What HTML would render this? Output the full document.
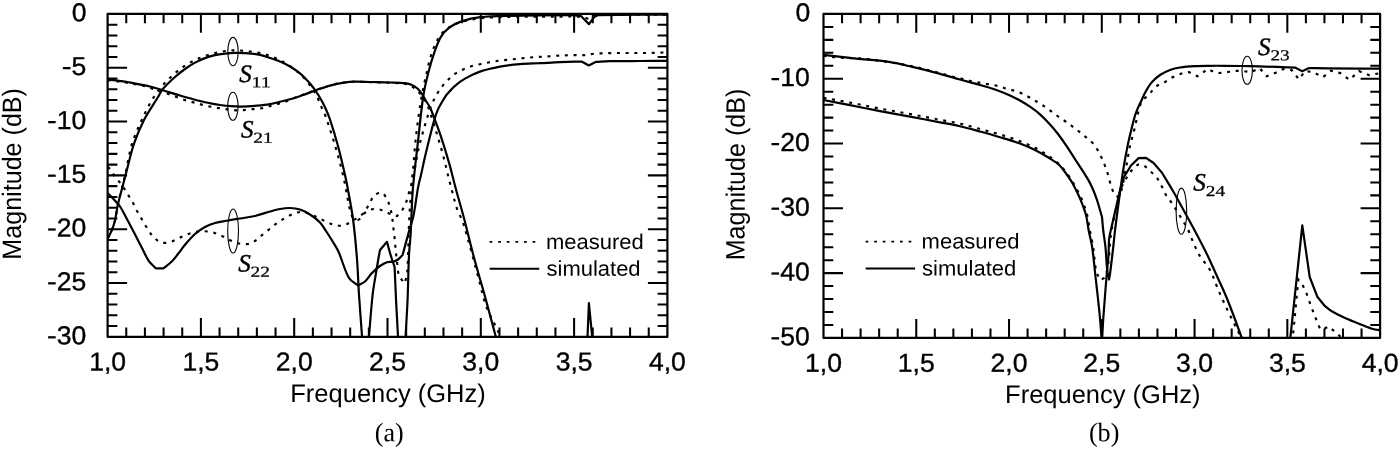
<!DOCTYPE html>
<html lang="en"><head><meta charset="utf-8"><title>S-parameters: measured and simulated</title>
<style>
html,body{margin:0;padding:0;background:#fff;}
body{width:1400px;height:449px;overflow:hidden;}
svg{display:block;will-change:transform;}
text{fill:#000;}
.sans{font-family:"Liberation Sans",Arial,Helvetica,sans-serif;}
.serif{font-family:"Liberation Serif","Times New Roman",Times,serif;}
</style></head><body>
<svg width="1400" height="449" viewBox="0 0 1400 449">
<rect x="0" y="0" width="1400" height="449" fill="#fff"/>
<defs>
<clipPath id="clipL"><rect x="107.60" y="13.95" width="559.80" height="322.85"/></clipPath>
<clipPath id="clipR"><rect x="823.50" y="13.95" width="556.60" height="323.95"/></clipPath>
</defs>

<g clip-path="url(#clipL)">
<path d="M107.60 238.50 C107.80 238.17 108.02 237.84 108.20 237.50 C108.99 236.01 109.77 234.52 110.50 233.00 C111.14 231.68 111.77 230.36 112.30 229.00 C112.94 227.36 113.51 225.69 114.00 224.00 C114.58 222.02 115.10 220.02 115.50 218.00 C116.43 213.35 116.99 208.63 118.00 204.00 C119.23 198.36 120.83 192.81 122.20 187.20 C123.60 181.47 125.04 175.76 126.30 170.00 C127.17 166.02 127.74 161.98 128.60 158.00 C129.64 153.21 130.41 148.32 132.00 143.70 C134.77 135.65 138.08 127.72 141.70 120.00 C145.38 112.15 149.25 104.28 153.90 97.00 C157.45 91.45 161.72 86.24 166.30 81.50 C171.39 76.24 176.94 71.21 182.90 67.00 C187.97 63.41 193.68 60.54 199.40 58.10 C204.71 55.84 210.37 54.21 216.00 52.90 C221.43 51.64 227.04 50.65 232.60 50.40 C238.07 50.15 243.64 50.72 249.10 51.40 C254.68 52.09 260.34 52.89 265.70 54.50 C271.41 56.22 277.03 58.61 282.30 61.40 C287.13 63.95 291.68 67.15 296.00 70.50 C299.25 73.02 302.23 75.96 305.00 79.00 C307.40 81.63 309.49 84.56 311.50 87.50 C313.49 90.40 315.40 93.38 317.00 96.50 C318.40 99.22 319.26 102.20 320.50 105.00 C321.76 107.86 323.34 110.60 324.50 113.50 C326.01 117.26 327.23 121.15 328.50 125.00 C330.89 132.25 333.37 139.47 335.50 146.80 C338.21 156.14 340.65 165.56 343.00 175.00 C343.99 178.96 344.70 182.99 345.50 187.00 C347.03 194.66 348.17 202.43 350.00 210.00 C350.67 212.76 351.59 215.66 353.00 218.00 C353.59 218.99 354.92 219.73 356.00 220.00 C356.92 220.23 358.25 220.10 359.00 219.50 C360.75 218.10 361.71 215.49 363.50 214.00 C365.71 212.16 368.29 210.26 371.00 209.50 C373.66 208.76 376.85 208.93 379.60 209.50 C382.51 210.10 385.16 211.94 388.00 213.00 C390.96 214.11 394.00 215.00 397.00 216.00 C398.87 213.83 401.07 211.89 402.60 209.50 C404.27 206.89 405.50 203.92 406.60 201.00 C407.63 198.25 408.17 195.32 409.00 192.50 C409.64 190.32 410.60 188.22 411.00 186.00 C411.94 180.72 412.46 175.35 413.00 170.00 C414.13 158.81 414.71 147.57 416.00 136.40 C417.44 123.90 419.19 111.42 421.20 99.00 C422.32 92.09 423.84 85.23 425.40 78.40 C427.31 70.06 428.85 61.56 431.60 53.50 C433.68 47.39 436.36 41.20 439.90 35.90 C442.16 32.53 445.60 29.74 449.00 27.50 C452.63 25.11 456.81 23.24 461.00 22.00 C467.14 20.18 473.60 18.98 480.00 18.30 C489.60 17.28 499.33 17.11 509.00 16.90 C525.99 16.54 543.00 16.67 560.00 16.60 C566.00 16.57 572.01 16.45 578.00 16.60 C580.01 16.65 582.04 16.83 584.00 17.20 C585.54 17.49 587.10 18.78 588.50 18.60 C589.76 18.44 590.74 16.80 592.00 16.20 C593.24 15.60 594.61 15.03 596.00 15.00 C619.74 14.50 643.60 14.73 667.40 14.60" fill="none" stroke="#000" stroke-width="2.15" stroke-dasharray="3 5.7"/>
<path d="M107.60 80.20 C111.07 80.60 114.54 80.94 118.00 81.40 C121.01 81.80 124.00 82.32 127.00 82.80 C130.00 83.28 133.02 83.72 136.00 84.30 C138.85 84.85 141.71 85.43 144.50 86.20 C147.37 86.99 150.16 88.07 153.00 89.00 C155.66 89.87 158.34 90.72 161.00 91.60 C164.00 92.59 167.02 93.54 170.00 94.60 C173.02 95.67 175.98 96.93 179.00 98.00 C181.81 99.00 184.64 99.96 187.50 100.80 C190.31 101.63 193.17 102.24 196.00 103.00 C199.01 103.81 201.98 104.76 205.00 105.50 C207.98 106.23 210.98 106.86 214.00 107.40 C216.98 107.93 220.00 108.29 223.00 108.70 C225.83 109.09 228.66 109.52 231.50 109.80 C234.36 110.08 237.24 110.47 240.10 110.40 C243.01 110.33 245.89 109.66 248.80 109.40 C251.79 109.13 254.82 109.17 257.80 108.80 C260.72 108.44 263.64 107.91 266.50 107.20 C269.41 106.48 272.21 105.31 275.10 104.50 C277.94 103.71 280.91 103.33 283.70 102.40 C286.68 101.40 289.47 99.85 292.40 98.70 C295.90 97.32 299.47 96.10 303.00 94.80 C307.33 93.20 311.64 91.52 316.00 90.00 C320.64 88.39 325.26 86.67 330.00 85.40 C334.60 84.17 339.30 83.21 344.00 82.50 C347.63 81.95 351.33 81.64 355.00 81.60 C359.99 81.54 365.00 82.03 370.00 82.20 C376.67 82.43 383.34 82.53 390.00 82.80 C394.67 82.99 399.38 83.05 404.00 83.60 C406.05 83.85 408.13 84.38 410.00 85.20 C411.47 85.85 412.73 86.98 414.00 88.00 C415.56 89.25 417.06 90.60 418.50 92.00 C419.73 93.20 421.05 94.38 422.00 95.80 C424.05 98.84 426.14 101.99 427.50 105.40 C430.71 113.45 433.10 121.89 435.70 130.20 C438.27 138.42 440.76 146.68 443.00 155.00 C445.59 164.61 447.67 174.37 450.20 184.00 C452.67 193.37 454.96 202.84 458.00 212.00 C458.89 214.68 461.10 216.82 462.00 219.50 C465.60 230.16 468.45 241.13 471.50 252.00 C474.11 261.30 476.53 270.66 479.00 280.00 C480.96 287.43 482.50 294.99 484.80 302.30 C486.17 306.65 488.11 310.84 490.00 315.00 C492.01 319.41 494.40 323.63 496.50 328.00 C498.40 331.97 500.17 336.00 502.00 340.00" fill="none" stroke="#000" stroke-width="2.15" stroke-dasharray="3 5.7"/>
<path d="M107.60 167.00 C108.07 167.33 108.65 167.55 109.00 168.00 C111.45 171.21 113.53 174.77 116.00 178.00 C117.86 180.44 120.21 182.51 122.00 185.00 C124.05 187.85 125.65 191.01 127.50 194.00 C129.15 196.68 130.97 199.26 132.50 202.00 C134.13 204.92 135.40 208.05 137.00 211.00 C138.57 213.89 140.33 216.67 142.00 219.50 C143.67 222.33 145.22 225.24 147.00 228.00 C148.88 230.91 150.62 234.04 153.00 236.50 C155.29 238.87 158.02 241.54 161.00 242.50 C163.69 243.37 167.12 242.68 170.00 242.00 C172.79 241.34 175.34 239.67 178.00 238.50 C181.00 237.17 183.93 235.64 187.00 234.50 C189.93 233.41 192.94 232.39 196.00 231.80 C198.61 231.29 201.34 231.09 204.00 231.20 C207.01 231.32 210.10 231.69 213.00 232.50 C216.43 233.46 219.73 235.04 223.00 236.50 C226.06 237.87 228.90 239.74 232.00 241.00 C234.87 242.17 237.86 243.45 240.90 243.80 C244.26 244.19 248.18 244.52 251.20 243.20 C255.74 241.22 259.51 237.06 263.60 233.90 C268.44 230.16 272.95 225.93 278.00 222.50 C282.62 219.36 287.50 216.34 292.60 214.20 C295.83 212.84 299.62 211.58 303.00 212.00 C307.92 212.61 312.77 215.29 317.50 217.30 C321.77 219.12 325.63 222.04 330.00 223.50 C333.93 224.81 338.47 226.25 342.40 225.60 C346.73 224.88 350.85 221.76 354.80 219.40 C357.88 217.56 361.06 215.56 363.50 213.00 C365.79 210.60 367.23 207.37 369.00 204.50 C370.73 201.70 371.73 198.16 374.00 196.00 C375.93 194.16 379.43 192.07 381.60 192.50 C383.63 192.90 385.31 196.27 386.60 198.50 C388.11 201.11 389.10 204.09 390.00 207.00 C390.90 209.93 391.48 212.97 392.00 216.00 C392.48 218.81 392.67 221.67 393.00 224.50 C393.33 227.33 393.67 230.17 394.00 233.00 C394.33 235.83 394.73 238.66 395.00 241.50 C395.27 244.33 395.33 247.17 395.60 250.00 C395.86 252.67 396.29 255.33 396.60 258.00 C396.95 261.00 397.19 264.01 397.60 267.00 C397.99 269.84 397.91 272.92 399.00 275.50 C400.24 278.42 402.73 280.83 404.60 283.50 C405.40 280.50 406.48 277.55 407.00 274.50 C407.48 271.71 407.44 268.84 407.60 266.00 C407.77 263.00 407.90 260.00 408.00 257.00 C408.36 246.33 408.53 235.66 409.00 225.00 C409.37 216.66 409.76 208.31 410.50 200.00 C411.09 193.31 411.97 186.64 413.00 180.00 C414.50 170.30 416.14 160.61 418.10 151.00 C419.24 145.41 420.77 139.90 422.30 134.40 C424.24 127.43 426.22 120.46 428.50 113.60 C430.02 109.03 431.65 104.45 433.70 100.10 C435.35 96.58 437.42 93.22 439.60 90.00 C441.52 87.16 443.64 84.39 446.00 81.90 C448.64 79.12 451.49 76.43 454.60 74.20 C457.26 72.29 460.32 70.90 463.30 69.50 C466.15 68.16 469.10 66.94 472.10 66.00 C474.93 65.11 477.89 64.63 480.80 64.00 C483.73 63.36 486.65 62.74 489.60 62.20 C492.52 61.67 495.46 61.20 498.40 60.80 C501.32 60.40 504.26 60.10 507.20 59.80 C510.10 59.50 513.00 59.30 515.90 59.00 C518.84 58.70 521.76 58.31 524.70 58.00 C527.53 57.71 530.36 57.41 533.20 57.20 C536.13 56.98 539.07 56.87 542.00 56.70 C544.93 56.53 547.87 56.39 550.80 56.20 C553.63 56.02 556.46 55.74 559.30 55.60 C563.33 55.40 567.37 55.32 571.40 55.20 C574.27 55.12 577.13 55.00 580.00 55.00 C582.00 55.00 584.02 55.34 586.00 55.20 C587.35 55.11 588.66 54.55 590.00 54.30 C591.32 54.05 592.66 53.80 594.00 53.70 C596.99 53.47 600.00 53.38 603.00 53.30 C608.67 53.15 614.33 53.04 620.00 53.00 C628.67 52.94 637.33 53.11 646.00 53.00 C653.13 52.91 660.27 52.60 667.40 52.40" fill="none" stroke="#000" stroke-width="2.15" stroke-dasharray="3 5.7"/>
<path d="M107.60 238.50 C107.80 238.17 108.02 237.84 108.20 237.50 C108.99 236.01 109.77 234.52 110.50 233.00 C111.14 231.68 111.77 230.36 112.30 229.00 C112.94 227.36 113.51 225.69 114.00 224.00 C114.58 222.02 115.10 220.02 115.50 218.00 C116.43 213.35 116.96 208.62 118.00 204.00 C119.26 198.36 120.94 192.80 122.40 187.20 C124.11 180.64 125.75 174.05 127.50 167.50 C129.62 159.55 131.31 151.45 134.00 143.70 C136.81 135.59 140.08 127.53 144.00 119.90 C148.08 111.97 153.39 104.67 158.00 97.00 C159.42 94.63 160.50 92.03 162.10 89.80 C163.50 87.86 165.29 86.19 167.00 84.50 C169.59 81.93 172.23 79.38 175.00 77.00 C178.23 74.22 181.54 71.49 185.00 69.00 C188.21 66.69 191.53 64.49 195.00 62.60 C198.20 60.86 201.58 59.38 205.00 58.10 C208.25 56.88 211.61 55.86 215.00 55.10 C218.28 54.36 221.65 53.97 225.00 53.60 C228.32 53.23 231.66 52.98 235.00 52.90 C238.33 52.82 241.68 52.85 245.00 53.10 C250.01 53.48 255.09 53.84 260.00 54.80 C263.42 55.47 266.68 56.89 270.00 58.00 C273.35 59.12 276.76 60.12 280.00 61.50 C283.42 62.95 286.80 64.61 290.00 66.50 C293.46 68.54 296.86 70.80 300.00 73.30 C302.19 75.04 304.04 77.20 306.00 79.20 C307.37 80.60 308.75 81.99 310.00 83.50 C312.09 86.03 314.14 88.60 316.00 91.30 C317.81 93.93 319.42 96.72 321.00 99.50 C322.42 102.02 323.81 104.57 325.00 107.20 C326.81 111.23 328.60 115.31 330.00 119.50 C333.00 128.51 335.72 137.63 338.20 146.80 C340.72 156.13 342.83 165.58 345.00 175.00 C345.93 179.04 346.76 183.12 347.50 187.20 C349.42 197.78 351.59 208.34 353.00 219.00 C354.76 232.28 355.95 245.64 357.00 259.00 C357.95 270.98 358.22 283.01 359.00 295.00 C359.98 310.01 361.20 325.00 362.30 340.00 L368.70 340.00 C370.00 325.00 370.97 309.96 372.60 295.00 C373.40 287.63 374.83 280.33 376.00 273.00 C376.80 267.99 377.63 262.99 378.50 258.00 C378.96 255.33 379.50 252.67 380.00 250.00 L387.00 241.80 C388.20 246.20 389.28 250.64 390.60 255.00 C391.82 259.04 393.27 263.00 394.60 267.00 C395.07 277.67 395.47 288.34 396.00 299.00 C396.67 312.67 397.47 326.33 398.20 340.00 L405.40 340.00 C406.13 326.33 407.02 312.67 407.60 299.00 C408.22 284.34 408.31 269.65 409.00 255.00 C409.31 248.32 410.17 241.67 410.60 235.00 C410.94 229.67 411.03 224.33 411.30 219.00 C411.83 208.40 412.08 197.77 413.00 187.20 C414.35 171.64 416.35 156.13 418.10 140.60 C419.78 125.73 421.06 110.78 423.30 96.00 C424.52 87.95 426.48 79.99 428.50 72.10 C430.28 65.13 432.31 58.18 434.70 51.40 C436.44 46.45 438.20 41.33 440.90 36.90 C443.03 33.40 445.93 30.05 449.20 27.60 C452.83 24.88 457.25 22.86 461.60 21.40 C467.62 19.39 473.98 17.94 480.30 17.20 C489.88 16.08 499.63 16.01 509.30 15.80 C529.99 15.35 550.71 15.20 571.40 15.20 C574.51 15.20 577.60 15.60 580.70 15.80 L589.00 24.10 L594.20 17.20 C595.60 16.53 596.86 15.25 598.40 15.20 C621.26 14.39 644.40 14.80 667.40 14.60" fill="none" stroke="#000" stroke-width="2.2" stroke-linejoin="round"/>
<path d="M107.60 79.50 C111.40 79.93 115.21 80.29 119.00 80.80 C122.68 81.29 126.35 81.83 130.00 82.50 C136.69 83.73 143.39 84.95 150.00 86.50 C154.05 87.45 158.01 88.80 162.00 90.00 C168.01 91.80 173.97 93.76 180.00 95.50 C186.64 97.42 193.30 99.30 200.00 101.00 C203.93 102.00 207.92 102.80 211.90 103.60 C214.59 104.14 217.29 104.63 220.00 105.00 C223.65 105.50 227.32 105.92 231.00 106.20 C234.29 106.45 237.60 106.65 240.90 106.60 C245.60 106.52 250.31 106.20 255.00 105.80 C260.01 105.37 265.06 105.02 270.00 104.10 C276.73 102.85 283.40 101.12 290.00 99.30 C294.40 98.09 298.69 96.51 303.00 95.00 C307.36 93.47 311.64 91.72 316.00 90.20 C320.64 88.59 325.27 86.88 330.00 85.60 C334.60 84.35 339.30 83.35 344.00 82.60 C347.63 82.02 351.33 81.68 355.00 81.60 C359.99 81.48 365.00 81.87 370.00 82.00 C376.67 82.17 383.34 82.27 390.00 82.50 C395.00 82.67 400.05 82.64 405.00 83.20 C407.38 83.47 409.83 84.03 412.00 85.00 C414.16 85.97 416.23 87.41 418.00 89.00 C419.57 90.41 420.82 92.23 422.00 94.00 C423.49 96.23 424.62 98.70 426.00 101.00 C427.12 102.86 428.49 104.58 429.50 106.50 C430.69 108.78 431.68 111.19 432.60 113.60 C435.48 121.15 438.34 128.73 440.90 136.40 C443.88 145.33 446.62 154.35 449.20 163.40 C451.45 171.28 453.26 179.29 455.40 187.20 C458.26 197.82 461.39 208.37 464.20 219.00 C467.36 230.97 470.14 243.03 473.30 255.00 C475.51 263.37 477.95 271.67 480.30 280.00 C481.71 285.01 483.23 289.98 484.60 295.00 C488.70 309.98 492.67 325.00 496.70 340.00" fill="none" stroke="#000" stroke-width="2.2" stroke-linejoin="round"/>
<path d="M107.60 193.00 C109.40 194.83 111.24 196.63 113.00 198.50 C114.70 200.30 116.39 202.12 118.00 204.00 C118.96 205.12 119.95 206.23 120.70 207.50 C123.29 211.90 125.60 216.48 128.00 221.00 C130.43 225.58 132.81 230.19 135.20 234.80 C137.48 239.19 139.72 243.61 142.00 248.00 C144.22 252.27 146.00 256.87 148.70 260.80 C150.67 263.67 153.57 265.87 156.00 268.40 L163.20 268.40 C165.97 266.20 168.98 264.25 171.50 261.80 C173.91 259.45 175.90 256.65 178.00 254.00 C180.40 250.98 182.51 247.73 185.00 244.80 C188.17 241.07 191.36 237.24 195.00 234.00 C198.02 231.31 201.46 228.95 205.00 227.00 C208.12 225.28 211.56 223.97 215.00 223.00 C219.23 221.81 223.66 221.28 228.00 220.50 C231.99 219.78 236.00 219.17 240.00 218.50 C245.00 217.67 250.07 217.15 255.00 216.00 C260.07 214.82 264.97 212.91 270.00 211.50 C273.31 210.57 276.62 209.59 280.00 209.00 C283.29 208.42 286.68 207.92 290.00 208.00 C293.34 208.08 296.83 208.47 300.00 209.50 C303.50 210.64 306.89 212.48 310.00 214.50 C313.56 216.81 317.06 219.47 320.00 222.50 C322.39 224.97 324.07 228.12 326.00 231.00 C327.94 233.89 329.79 236.83 331.60 239.80 C333.86 243.50 336.41 247.07 338.20 251.00 C342.21 259.80 344.30 269.80 349.00 278.00 C350.90 281.30 355.00 283.00 358.00 285.50 C360.33 284.17 363.03 283.26 365.00 281.50 C367.69 279.09 369.46 275.63 372.00 273.00 C374.46 270.46 377.14 268.06 380.00 266.00 C382.14 264.46 384.53 263.00 387.00 262.20 C388.86 261.60 391.09 262.27 393.00 261.80 C394.75 261.37 396.52 260.54 398.00 259.50 C399.72 258.28 401.07 256.50 402.60 255.00 C404.40 248.33 406.17 241.66 408.00 235.00 C409.84 228.32 412.17 221.76 413.60 215.00 C415.54 205.83 416.39 196.43 418.10 187.20 C418.86 183.09 420.08 179.08 421.00 175.00 C422.51 168.34 423.83 161.64 425.40 155.00 C427.69 145.31 430.08 135.63 432.60 126.00 C433.61 122.13 434.71 118.28 436.00 114.50 C436.85 112.01 438.00 109.63 439.00 107.20 C440.50 104.63 441.95 102.03 443.50 99.50 C444.48 97.90 445.40 96.23 446.60 94.80 C449.23 91.67 451.93 88.50 455.00 85.80 C458.07 83.10 461.44 80.62 465.00 78.60 C469.78 75.89 474.80 73.38 480.00 71.60 C486.47 69.38 493.26 67.86 500.00 66.60 C506.59 65.36 513.31 64.67 520.00 64.10 C526.64 63.54 533.33 63.52 540.00 63.20 C546.67 62.88 553.33 62.47 560.00 62.20 C567.20 61.91 574.40 61.73 581.60 61.50 L588.80 65.50 L596.10 61.80 C600.73 61.60 605.36 61.28 610.00 61.20 C620.00 61.02 630.00 61.05 640.00 61.00 C649.13 60.95 658.27 60.93 667.40 60.90" fill="none" stroke="#000" stroke-width="2.2" stroke-linejoin="round"/>
<path d="M587.40 340.00 L588.90 303.20 L592.50 340.00" fill="none" stroke="#000" stroke-width="2.2" stroke-linejoin="round"/>
</g>
<rect x="107.60" y="13.95" width="559.80" height="322.85" fill="none" stroke="#000" stroke-width="2.2" stroke-linejoin="round"/>
<path d="M126.26 13.95 v9.40 M126.26 336.80 v-9.40 M144.92 13.95 v9.40 M144.92 336.80 v-9.40 M163.58 13.95 v9.40 M163.58 336.80 v-9.40 M182.24 13.95 v9.40 M182.24 336.80 v-9.40 M200.90 13.95 v18.80 M200.90 336.80 v-18.80 M219.56 13.95 v9.40 M219.56 336.80 v-9.40 M238.22 13.95 v9.40 M238.22 336.80 v-9.40 M256.88 13.95 v9.40 M256.88 336.80 v-9.40 M275.54 13.95 v9.40 M275.54 336.80 v-9.40 M294.20 13.95 v18.80 M294.20 336.80 v-18.80 M312.86 13.95 v9.40 M312.86 336.80 v-9.40 M331.52 13.95 v9.40 M331.52 336.80 v-9.40 M350.18 13.95 v9.40 M350.18 336.80 v-9.40 M368.84 13.95 v9.40 M368.84 336.80 v-9.40 M387.50 13.95 v18.80 M387.50 336.80 v-18.80 M406.16 13.95 v9.40 M406.16 336.80 v-9.40 M424.82 13.95 v9.40 M424.82 336.80 v-9.40 M443.48 13.95 v9.40 M443.48 336.80 v-9.40 M462.14 13.95 v9.40 M462.14 336.80 v-9.40 M480.80 13.95 v18.80 M480.80 336.80 v-18.80 M499.46 13.95 v9.40 M499.46 336.80 v-9.40 M518.12 13.95 v9.40 M518.12 336.80 v-9.40 M536.78 13.95 v9.40 M536.78 336.80 v-9.40 M555.44 13.95 v9.40 M555.44 336.80 v-9.40 M574.10 13.95 v18.80 M574.10 336.80 v-18.80 M592.76 13.95 v9.40 M592.76 336.80 v-9.40 M611.42 13.95 v9.40 M611.42 336.80 v-9.40 M630.08 13.95 v9.40 M630.08 336.80 v-9.40 M648.74 13.95 v9.40 M648.74 336.80 v-9.40 M107.60 24.71 h9.80 M667.40 24.71 h-9.80 M107.60 35.47 h9.80 M667.40 35.47 h-9.80 M107.60 46.23 h9.80 M667.40 46.23 h-9.80 M107.60 57.00 h9.80 M667.40 57.00 h-9.80 M107.60 67.76 h19.50 M667.40 67.76 h-19.50 M107.60 78.52 h9.80 M667.40 78.52 h-9.80 M107.60 89.28 h9.80 M667.40 89.28 h-9.80 M107.60 100.04 h9.80 M667.40 100.04 h-9.80 M107.60 110.81 h9.80 M667.40 110.81 h-9.80 M107.60 121.57 h19.50 M667.40 121.57 h-19.50 M107.60 132.33 h9.80 M667.40 132.33 h-9.80 M107.60 143.09 h9.80 M667.40 143.09 h-9.80 M107.60 153.85 h9.80 M667.40 153.85 h-9.80 M107.60 164.61 h9.80 M667.40 164.61 h-9.80 M107.60 175.38 h19.50 M667.40 175.38 h-19.50 M107.60 186.14 h9.80 M667.40 186.14 h-9.80 M107.60 196.90 h9.80 M667.40 196.90 h-9.80 M107.60 207.66 h9.80 M667.40 207.66 h-9.80 M107.60 218.42 h9.80 M667.40 218.42 h-9.80 M107.60 229.18 h19.50 M667.40 229.18 h-19.50 M107.60 239.94 h9.80 M667.40 239.94 h-9.80 M107.60 250.71 h9.80 M667.40 250.71 h-9.80 M107.60 261.47 h9.80 M667.40 261.47 h-9.80 M107.60 272.23 h9.80 M667.40 272.23 h-9.80 M107.60 282.99 h19.50 M667.40 282.99 h-19.50 M107.60 293.75 h9.80 M667.40 293.75 h-9.80 M107.60 304.51 h9.80 M667.40 304.51 h-9.80 M107.60 315.28 h9.80 M667.40 315.28 h-9.80 M107.60 326.04 h9.80 M667.40 326.04 h-9.80 " fill="none" stroke="#000" stroke-width="2.05"/>

<g clip-path="url(#clipR)">
<path d="M823.50 55.70 C827.33 56.23 831.15 56.89 835.00 57.30 C838.32 57.66 841.66 57.85 845.00 58.00 C850.00 58.22 855.02 58.00 860.00 58.40 C866.69 58.93 873.35 59.87 880.00 60.80 C886.68 61.74 893.34 62.89 900.00 64.00 C904.14 64.69 908.30 65.33 912.40 66.20 C916.63 67.10 920.81 68.24 925.00 69.30 C929.77 70.51 934.54 71.74 939.30 73.00 C944.21 74.30 949.08 75.74 954.00 77.00 C957.15 77.81 960.34 78.44 963.50 79.20 C966.54 79.94 969.54 80.84 972.60 81.50 C975.38 82.10 978.20 82.52 981.00 83.00 C984.00 83.52 987.01 83.96 990.00 84.50 C992.87 85.02 995.77 85.48 998.60 86.20 C1001.44 86.92 1004.18 87.99 1007.00 88.80 C1009.98 89.66 1013.07 90.21 1016.00 91.20 C1018.97 92.21 1021.89 93.42 1024.70 94.80 C1027.66 96.25 1030.44 98.05 1033.30 99.70 C1036.21 101.38 1039.17 102.99 1042.00 104.80 C1044.94 106.69 1047.77 108.75 1050.60 110.80 C1053.63 112.99 1056.55 115.34 1059.60 117.50 C1062.38 119.47 1065.33 121.21 1068.10 123.20 C1071.10 125.35 1074.00 127.63 1076.90 129.90 C1079.83 132.19 1082.77 134.49 1085.60 136.90 C1088.33 139.22 1091.40 141.32 1093.60 144.10 C1096.50 147.75 1098.84 151.98 1100.90 156.20 C1103.34 161.21 1105.29 166.51 1107.10 171.80 C1108.72 176.55 1109.58 181.56 1111.20 186.30 C1112.22 189.29 1113.29 192.50 1115.00 195.00 C1115.73 196.06 1117.33 196.33 1118.50 197.00 C1119.50 194.67 1120.87 192.45 1121.50 190.00 C1123.37 182.78 1124.58 175.35 1126.00 168.00 C1127.41 160.68 1128.43 153.28 1130.00 146.00 C1131.16 140.65 1132.82 135.41 1134.20 130.10 C1136.62 120.77 1137.83 110.76 1141.40 102.10 C1142.67 99.03 1146.37 97.39 1148.70 94.90 C1151.20 92.23 1153.10 88.84 1155.90 86.60 C1158.26 84.71 1161.51 84.01 1164.20 82.50 C1167.04 80.91 1169.59 78.76 1172.50 77.30 C1175.83 75.63 1179.35 74.21 1182.90 73.10 C1184.89 72.48 1187.03 72.43 1189.10 72.10 L1197.40 76.30 L1207.70 69.00 L1216.00 73.10 C1218.77 72.97 1221.56 73.03 1224.30 72.70 C1227.09 72.36 1229.81 71.34 1232.60 71.10 C1236.01 70.81 1239.48 70.92 1242.90 71.10 C1245.68 71.25 1248.43 71.77 1251.20 72.10 L1259.50 68.00 L1266.80 76.30 C1269.53 75.23 1272.32 74.29 1275.00 73.10 C1277.82 71.85 1280.53 70.37 1283.30 69.00 L1291.60 70.00 L1298.90 79.40 L1305.10 71.10 L1313.40 72.10 L1322.70 77.30 L1331.00 70.70 L1340.30 73.10 L1349.60 79.80 L1358.90 71.10 L1369.30 75.20 L1380.10 73.10" fill="none" stroke="#000" stroke-width="2.15" stroke-dasharray="3 5.7"/>
<path d="M823.50 97.80 C832.33 99.40 841.18 100.91 850.00 102.60 C860.02 104.51 869.98 106.70 880.00 108.60 C889.98 110.50 900.01 112.14 910.00 114.00 C920.01 115.87 930.00 117.87 940.00 119.80 C946.60 121.07 953.24 122.14 959.80 123.60 C964.91 124.74 969.94 126.24 975.00 127.60 C980.34 129.04 985.67 130.51 991.00 132.00 C995.67 133.31 1000.38 134.53 1005.00 136.00 C1010.04 137.60 1015.08 139.26 1020.00 141.20 C1025.08 143.20 1030.10 145.39 1035.00 147.80 C1038.44 149.49 1041.76 151.46 1045.00 153.50 C1047.42 155.03 1049.73 156.76 1052.00 158.50 C1054.73 160.59 1057.58 162.58 1060.00 165.00 C1062.58 167.58 1064.81 170.56 1067.00 173.50 C1069.15 176.39 1071.20 179.38 1073.00 182.50 C1076.04 187.78 1079.07 193.13 1081.50 198.70 C1083.80 203.96 1085.73 209.46 1087.20 215.00 C1088.50 219.89 1088.88 225.01 1089.80 230.00 C1090.88 235.84 1092.29 241.63 1093.20 247.50 C1094.36 254.96 1094.46 262.66 1096.00 270.00 C1096.73 273.49 1098.67 276.67 1100.00 280.00 C1101.67 279.00 1104.22 278.65 1105.00 277.00 C1107.06 272.65 1107.66 267.05 1108.50 262.00 C1109.16 258.05 1109.17 254.00 1109.50 250.00 C1109.83 246.00 1110.05 241.99 1110.50 238.00 C1110.88 234.65 1111.40 231.32 1112.00 228.00 C1112.90 222.98 1113.88 217.97 1115.00 213.00 C1116.21 207.64 1117.60 202.31 1119.00 197.00 C1119.93 193.48 1120.74 189.90 1122.00 186.50 C1122.90 184.06 1124.17 181.74 1125.50 179.50 C1127.34 176.41 1129.30 173.33 1131.50 170.50 C1132.80 168.83 1134.35 167.29 1136.00 166.00 C1137.05 165.19 1138.36 164.26 1139.60 164.20 C1141.02 164.13 1142.69 164.85 1144.00 165.60 C1145.49 166.45 1146.73 167.80 1148.00 169.00 C1150.93 171.77 1154.10 174.38 1156.60 177.50 C1158.64 180.05 1160.05 183.10 1161.60 186.00 C1163.08 188.77 1164.10 191.80 1165.70 194.50 C1167.47 197.47 1169.76 200.13 1171.70 203.00 C1173.59 205.79 1175.40 208.64 1177.20 211.50 C1178.97 214.31 1180.68 217.16 1182.40 220.00 C1184.21 222.99 1186.25 225.88 1187.80 229.00 C1189.18 231.78 1189.93 234.86 1191.20 237.70 C1193.93 243.79 1196.45 250.05 1199.80 255.80 C1202.72 260.82 1207.25 264.90 1210.00 270.00 C1213.52 276.54 1215.59 283.86 1218.60 290.70 C1221.89 298.19 1225.36 305.62 1228.90 313.00 C1232.22 319.92 1235.84 326.70 1239.20 333.60 C1240.54 336.36 1241.73 339.20 1243.00 342.00" fill="none" stroke="#000" stroke-width="2.15" stroke-dasharray="3 5.7"/>
<path d="M1292.00 342.00 C1292.40 338.93 1292.86 335.87 1293.20 332.80 C1293.86 326.81 1294.43 320.80 1295.00 314.80 C1295.60 308.50 1296.09 302.20 1296.70 295.90 C1297.23 290.46 1297.83 285.03 1298.40 279.60 C1299.53 281.03 1300.86 282.34 1301.80 283.90 C1303.43 286.61 1304.85 289.49 1306.10 292.40 C1307.42 295.49 1308.35 298.74 1309.50 301.90 C1310.65 305.04 1311.80 308.18 1313.00 311.30 C1314.10 314.18 1315.25 317.04 1316.40 319.90 C1317.38 322.34 1318.22 324.87 1319.40 327.20 C1319.92 328.23 1320.80 329.07 1321.50 330.00 C1322.43 329.60 1323.40 329.27 1324.30 328.80 C1325.64 328.10 1326.90 327.27 1328.20 326.50 C1330.57 328.33 1333.04 330.04 1335.30 332.00 C1338.98 335.20 1342.43 338.67 1346.00 342.00" fill="none" stroke="#000" stroke-width="2.15" stroke-dasharray="3 5.7"/>
<path d="M823.50 54.90 C834.47 56.13 845.43 57.43 856.40 58.60 C866.76 59.70 877.21 60.17 887.50 61.70 C895.88 62.94 904.14 65.00 912.40 66.90 C921.40 68.97 930.37 71.24 939.30 73.60 C946.23 75.44 953.09 77.56 960.00 79.50 C966.66 81.36 973.35 83.10 980.00 85.00 C985.02 86.43 990.07 87.79 995.00 89.50 C1000.07 91.26 1005.09 93.24 1010.00 95.40 C1013.42 96.91 1016.75 98.66 1020.00 100.50 C1023.41 102.43 1026.78 104.46 1030.00 106.70 C1033.45 109.10 1036.86 111.61 1040.00 114.40 C1043.53 117.54 1046.80 121.01 1050.00 124.50 C1052.80 127.55 1055.46 130.73 1058.00 134.00 C1060.66 137.43 1063.16 141.00 1065.60 144.60 C1069.16 149.87 1072.56 155.25 1076.00 160.60 C1080.16 167.08 1084.50 173.47 1088.40 180.10 C1090.17 183.10 1091.62 186.30 1093.00 189.50 C1094.48 192.93 1095.84 196.44 1097.00 200.00 C1098.84 205.61 1100.33 211.33 1102.00 217.00 C1102.40 221.33 1102.70 225.68 1103.20 230.00 C1103.87 235.84 1104.91 241.65 1105.50 247.50 C1106.25 254.98 1106.38 262.53 1107.20 270.00 C1107.55 273.20 1108.40 276.33 1109.00 279.50 C1109.33 277.67 1109.76 275.85 1110.00 274.00 C1111.16 265.18 1112.18 256.34 1113.20 247.50 C1113.72 243.01 1114.10 238.50 1114.60 234.00 C1114.93 231.00 1115.31 228.00 1115.70 225.00 C1116.95 215.33 1118.17 205.66 1119.50 196.00 C1120.80 186.52 1122.07 177.04 1123.60 167.60 C1124.83 160.01 1126.26 152.44 1127.80 144.90 C1128.80 140.00 1130.00 135.15 1131.20 130.30 C1132.47 125.18 1133.61 120.02 1135.20 115.00 C1136.28 111.58 1137.77 108.29 1139.20 105.00 C1139.94 103.29 1140.91 101.69 1141.70 100.00 C1142.51 98.29 1143.14 96.49 1144.00 94.80 C1145.24 92.35 1146.55 89.92 1148.00 87.60 C1149.21 85.66 1150.43 83.65 1152.00 82.00 C1154.43 79.45 1157.08 76.95 1160.00 75.00 C1163.08 72.95 1166.53 71.30 1170.00 70.00 C1173.20 68.80 1176.61 68.03 1180.00 67.50 C1184.95 66.73 1189.99 66.38 1195.00 66.10 C1199.99 65.82 1205.00 65.85 1210.00 65.80 C1215.00 65.75 1220.00 65.77 1225.00 65.80 C1230.00 65.83 1235.00 65.91 1240.00 66.00 C1246.33 66.11 1252.67 66.24 1259.00 66.40 C1264.70 66.54 1270.40 66.71 1276.10 66.90 C1282.40 67.11 1288.70 67.37 1295.00 67.60 L1302.30 71.20 L1309.00 68.10 C1315.30 68.20 1321.60 68.35 1327.90 68.40 C1345.30 68.55 1362.70 68.60 1380.10 68.70" fill="none" stroke="#000" stroke-width="2.2" stroke-linejoin="round"/>
<path d="M823.50 100.00 C832.33 101.73 841.17 103.46 850.00 105.20 C860.00 107.16 869.99 109.20 880.00 111.10 C889.99 113.00 900.01 114.73 910.00 116.60 C920.01 118.47 930.00 120.38 940.00 122.30 C946.67 123.58 953.38 124.68 960.00 126.20 C966.72 127.75 973.35 129.67 980.00 131.50 C986.68 133.34 993.36 135.21 1000.00 137.20 C1006.69 139.21 1013.44 141.10 1020.00 143.50 C1025.11 145.37 1030.13 147.57 1035.00 150.00 C1040.13 152.57 1045.11 155.49 1050.00 158.50 C1053.11 160.42 1056.36 162.32 1059.00 164.80 C1061.69 167.32 1063.78 170.52 1066.00 173.50 C1068.08 176.28 1070.10 179.13 1071.90 182.10 C1073.43 184.63 1074.69 187.34 1076.00 190.00 C1077.42 192.87 1078.91 195.73 1080.10 198.70 C1082.24 204.06 1084.49 209.45 1086.00 215.00 C1087.32 219.88 1087.65 225.02 1088.60 230.00 C1089.72 235.85 1091.30 241.62 1092.20 247.50 C1093.44 255.62 1094.09 263.83 1095.00 272.00 C1096.56 286.00 1098.22 299.99 1099.60 314.00 C1100.52 323.32 1101.13 332.67 1101.90 342.00 C1102.47 332.67 1102.93 323.33 1103.60 314.00 C1104.66 299.33 1105.88 284.66 1107.10 270.00 C1107.52 265.00 1108.18 260.01 1108.50 255.00 C1108.82 250.01 1108.64 244.98 1109.00 240.00 C1109.14 237.98 1109.60 235.99 1110.00 234.00 C1110.60 230.99 1111.32 228.00 1112.00 225.00 C1112.99 220.66 1114.01 216.33 1115.00 212.00 C1116.34 206.17 1117.66 200.33 1119.00 194.50 C1119.42 192.66 1119.87 190.83 1120.30 189.00 L1124.00 177.00 L1131.00 165.50 L1138.60 158.10 L1146.00 157.80 L1153.60 163.00 L1162.00 172.70 C1165.33 178.23 1168.73 183.73 1172.00 189.30 C1174.17 192.99 1176.23 196.75 1178.30 200.50 C1182.99 208.99 1187.73 217.45 1192.30 226.00 C1197.17 235.11 1202.04 244.23 1206.60 253.50 C1210.24 260.90 1213.48 268.49 1216.90 276.00 C1219.78 282.33 1222.79 288.60 1225.50 295.00 C1228.16 301.27 1230.59 307.63 1233.00 314.00 C1236.52 323.30 1239.87 332.67 1243.30 342.00" fill="none" stroke="#000" stroke-width="2.2" stroke-linejoin="round"/>
<path d="M1289.90 342.00 L1302.30 225.40 L1309.70 277.00 L1317.30 296.70 L1325.00 306.20 C1327.27 307.90 1329.36 309.88 1331.80 311.30 C1336.23 313.88 1340.92 316.08 1345.60 318.20 C1350.65 320.48 1355.84 322.47 1361.00 324.50 C1364.97 326.07 1368.92 327.78 1373.00 329.00 C1375.29 329.68 1377.73 329.80 1380.10 330.20" fill="none" stroke="#000" stroke-width="2.2" stroke-linejoin="round"/>
</g>
<rect x="823.50" y="13.95" width="556.60" height="323.95" fill="none" stroke="#000" stroke-width="2.2" stroke-linejoin="round"/>
<path d="M842.05 13.95 v9.40 M842.05 337.90 v-9.40 M860.61 13.95 v9.40 M860.61 337.90 v-9.40 M879.16 13.95 v9.40 M879.16 337.90 v-9.40 M897.71 13.95 v9.40 M897.71 337.90 v-9.40 M916.27 13.95 v18.80 M916.27 337.90 v-18.80 M934.82 13.95 v9.40 M934.82 337.90 v-9.40 M953.37 13.95 v9.40 M953.37 337.90 v-9.40 M971.93 13.95 v9.40 M971.93 337.90 v-9.40 M990.48 13.95 v9.40 M990.48 337.90 v-9.40 M1009.03 13.95 v18.80 M1009.03 337.90 v-18.80 M1027.59 13.95 v9.40 M1027.59 337.90 v-9.40 M1046.14 13.95 v9.40 M1046.14 337.90 v-9.40 M1064.69 13.95 v9.40 M1064.69 337.90 v-9.40 M1083.25 13.95 v9.40 M1083.25 337.90 v-9.40 M1101.80 13.95 v18.80 M1101.80 337.90 v-18.80 M1120.35 13.95 v9.40 M1120.35 337.90 v-9.40 M1138.91 13.95 v9.40 M1138.91 337.90 v-9.40 M1157.46 13.95 v9.40 M1157.46 337.90 v-9.40 M1176.01 13.95 v9.40 M1176.01 337.90 v-9.40 M1194.57 13.95 v18.80 M1194.57 337.90 v-18.80 M1213.12 13.95 v9.40 M1213.12 337.90 v-9.40 M1231.67 13.95 v9.40 M1231.67 337.90 v-9.40 M1250.23 13.95 v9.40 M1250.23 337.90 v-9.40 M1268.78 13.95 v9.40 M1268.78 337.90 v-9.40 M1287.33 13.95 v18.80 M1287.33 337.90 v-18.80 M1305.89 13.95 v9.40 M1305.89 337.90 v-9.40 M1324.44 13.95 v9.40 M1324.44 337.90 v-9.40 M1342.99 13.95 v9.40 M1342.99 337.90 v-9.40 M1361.55 13.95 v9.40 M1361.55 337.90 v-9.40 M823.50 26.91 h9.80 M1380.10 26.91 h-9.80 M823.50 39.87 h9.80 M1380.10 39.87 h-9.80 M823.50 52.82 h9.80 M1380.10 52.82 h-9.80 M823.50 65.78 h9.80 M1380.10 65.78 h-9.80 M823.50 78.74 h19.50 M1380.10 78.74 h-19.50 M823.50 91.70 h9.80 M1380.10 91.70 h-9.80 M823.50 104.66 h9.80 M1380.10 104.66 h-9.80 M823.50 117.61 h9.80 M1380.10 117.61 h-9.80 M823.50 130.57 h9.80 M1380.10 130.57 h-9.80 M823.50 143.53 h19.50 M1380.10 143.53 h-19.50 M823.50 156.49 h9.80 M1380.10 156.49 h-9.80 M823.50 169.45 h9.80 M1380.10 169.45 h-9.80 M823.50 182.40 h9.80 M1380.10 182.40 h-9.80 M823.50 195.36 h9.80 M1380.10 195.36 h-9.80 M823.50 208.32 h19.50 M1380.10 208.32 h-19.50 M823.50 221.28 h9.80 M1380.10 221.28 h-9.80 M823.50 234.24 h9.80 M1380.10 234.24 h-9.80 M823.50 247.19 h9.80 M1380.10 247.19 h-9.80 M823.50 260.15 h9.80 M1380.10 260.15 h-9.80 M823.50 273.11 h19.50 M1380.10 273.11 h-19.50 M823.50 286.07 h9.80 M1380.10 286.07 h-9.80 M823.50 299.03 h9.80 M1380.10 299.03 h-9.80 M823.50 311.98 h9.80 M1380.10 311.98 h-9.80 M823.50 324.94 h9.80 M1380.10 324.94 h-9.80 " fill="none" stroke="#000" stroke-width="2.05"/>

<ellipse cx="233.0" cy="51.6" rx="5.2" ry="14.2" fill="none" stroke="#000" stroke-width="1.1"/>
<ellipse cx="232.9" cy="106.3" rx="5.2" ry="14.0" fill="none" stroke="#000" stroke-width="1.1"/>
<ellipse cx="233.1" cy="231.0" rx="5.4" ry="22.0" fill="none" stroke="#000" stroke-width="1.1"/>
<ellipse cx="1247.2" cy="70.3" rx="5.2" ry="14.0" fill="none" stroke="#000" stroke-width="1.1"/>
<ellipse cx="1181.4" cy="211.2" rx="5.3" ry="23.1" fill="none" stroke="#000" stroke-width="1.1"/>
<text class="sans" transform="translate(86.55,21.30) rotate(0.03) scale(1.0220,1)" font-size="26.00" text-anchor="end" stroke="#000" stroke-width="0.35">0</text>
<text class="sans" transform="translate(61.79,75.11) rotate(0.03) scale(1.0220,1)" font-size="26.00" text-anchor="start" stroke="#000" stroke-width="0.35"><tspan textLength="9.52" lengthAdjust="spacingAndGlyphs">-</tspan>5</text>
<text class="sans" transform="translate(47.01,128.92) rotate(0.03) scale(1.0220,1)" font-size="26.00" text-anchor="start" stroke="#000" stroke-width="0.35"><tspan textLength="9.52" lengthAdjust="spacingAndGlyphs">-</tspan>10</text>
<text class="sans" transform="translate(47.01,182.72) rotate(0.03) scale(1.0220,1)" font-size="26.00" text-anchor="start" stroke="#000" stroke-width="0.35"><tspan textLength="9.52" lengthAdjust="spacingAndGlyphs">-</tspan>15</text>
<text class="sans" transform="translate(47.01,236.53) rotate(0.03) scale(1.0220,1)" font-size="26.00" text-anchor="start" stroke="#000" stroke-width="0.35"><tspan textLength="9.52" lengthAdjust="spacingAndGlyphs">-</tspan>20</text>
<text class="sans" transform="translate(47.01,290.34) rotate(0.03) scale(1.0220,1)" font-size="26.00" text-anchor="start" stroke="#000" stroke-width="0.35"><tspan textLength="9.52" lengthAdjust="spacingAndGlyphs">-</tspan>25</text>
<text class="sans" transform="translate(47.01,344.15) rotate(0.03) scale(1.0220,1)" font-size="26.00" text-anchor="start" stroke="#000" stroke-width="0.35"><tspan textLength="9.52" lengthAdjust="spacingAndGlyphs">-</tspan>30</text>
<text class="sans" transform="translate(810.15,21.30) rotate(0.03) scale(1.0220,1)" font-size="26.00" text-anchor="end" stroke="#000" stroke-width="0.35">0</text>
<text class="sans" transform="translate(770.61,86.09) rotate(0.03) scale(1.0220,1)" font-size="26.00" text-anchor="start" stroke="#000" stroke-width="0.35"><tspan textLength="9.52" lengthAdjust="spacingAndGlyphs">-</tspan>10</text>
<text class="sans" transform="translate(770.61,150.88) rotate(0.03) scale(1.0220,1)" font-size="26.00" text-anchor="start" stroke="#000" stroke-width="0.35"><tspan textLength="9.52" lengthAdjust="spacingAndGlyphs">-</tspan>20</text>
<text class="sans" transform="translate(770.61,215.67) rotate(0.03) scale(1.0220,1)" font-size="26.00" text-anchor="start" stroke="#000" stroke-width="0.35"><tspan textLength="9.52" lengthAdjust="spacingAndGlyphs">-</tspan>30</text>
<text class="sans" transform="translate(770.61,280.46) rotate(0.03) scale(1.0220,1)" font-size="26.00" text-anchor="start" stroke="#000" stroke-width="0.35"><tspan textLength="9.52" lengthAdjust="spacingAndGlyphs">-</tspan>40</text>
<text class="sans" transform="translate(770.61,345.25) rotate(0.03) scale(1.0220,1)" font-size="26.00" text-anchor="start" stroke="#000" stroke-width="0.35"><tspan textLength="9.52" lengthAdjust="spacingAndGlyphs">-</tspan>50</text>
<text class="sans" transform="translate(107.60,370.60) rotate(0.03) scale(1.0220,1)" font-size="26.00" text-anchor="middle" stroke="#000" stroke-width="0.35">1,0</text>
<text class="sans" transform="translate(823.50,371.70) rotate(0.03) scale(1.0220,1)" font-size="26.00" text-anchor="middle" stroke="#000" stroke-width="0.35">1,0</text>
<text class="sans" transform="translate(200.90,370.60) rotate(0.03) scale(1.0220,1)" font-size="26.00" text-anchor="middle" stroke="#000" stroke-width="0.35">1,5</text>
<text class="sans" transform="translate(916.27,371.70) rotate(0.03) scale(1.0220,1)" font-size="26.00" text-anchor="middle" stroke="#000" stroke-width="0.35">1,5</text>
<text class="sans" transform="translate(294.20,370.60) rotate(0.03) scale(1.0220,1)" font-size="26.00" text-anchor="middle" stroke="#000" stroke-width="0.35">2,0</text>
<text class="sans" transform="translate(1009.03,371.70) rotate(0.03) scale(1.0220,1)" font-size="26.00" text-anchor="middle" stroke="#000" stroke-width="0.35">2,0</text>
<text class="sans" transform="translate(387.50,370.60) rotate(0.03) scale(1.0220,1)" font-size="26.00" text-anchor="middle" stroke="#000" stroke-width="0.35">2,5</text>
<text class="sans" transform="translate(1101.80,371.70) rotate(0.03) scale(1.0220,1)" font-size="26.00" text-anchor="middle" stroke="#000" stroke-width="0.35">2,5</text>
<text class="sans" transform="translate(480.80,370.60) rotate(0.03) scale(1.0220,1)" font-size="26.00" text-anchor="middle" stroke="#000" stroke-width="0.35">3,0</text>
<text class="sans" transform="translate(1194.57,371.70) rotate(0.03) scale(1.0220,1)" font-size="26.00" text-anchor="middle" stroke="#000" stroke-width="0.35">3,0</text>
<text class="sans" transform="translate(574.10,370.60) rotate(0.03) scale(1.0220,1)" font-size="26.00" text-anchor="middle" stroke="#000" stroke-width="0.35">3,5</text>
<text class="sans" transform="translate(1287.33,371.70) rotate(0.03) scale(1.0220,1)" font-size="26.00" text-anchor="middle" stroke="#000" stroke-width="0.35">3,5</text>
<text class="sans" transform="translate(667.40,370.60) rotate(0.03) scale(1.0220,1)" font-size="26.00" text-anchor="middle" stroke="#000" stroke-width="0.35">4,0</text>
<text class="sans" transform="translate(1380.10,371.70) rotate(0.03) scale(1.0220,1)" font-size="26.00" text-anchor="middle" stroke="#000" stroke-width="0.35">4,0</text>
<text class="sans" transform="translate(290.30,402.00) rotate(0.03) scale(1.0040,1)" font-size="25.40" text-anchor="start">Frequency (GHz)</text>
<text class="sans" transform="translate(1005.10,402.90) rotate(0.03) scale(1.0040,1)" font-size="25.40" text-anchor="start">Frequency (GHz)</text>
<text class="sans" transform="translate(20.90,259.70) rotate(-89.97) scale(0.9445,1)" font-size="26.60" text-anchor="start">Magnitude (dB)</text>
<text class="sans" transform="translate(744.60,260.30) rotate(-89.97) scale(0.9445,1)" font-size="26.60" text-anchor="start">Magnitude (dB)</text>
<path d="M489.6 241.9 H537.5" fill="none" stroke="#000" stroke-width="1.9" stroke-dasharray="2.7 5.9"/>
<path d="M489.7 268.7 H539.2" fill="none" stroke="#000" stroke-width="1.95"/>
<path d="M865.6 241.6 H913.5" fill="none" stroke="#000" stroke-width="1.9" stroke-dasharray="2.7 5.9"/>
<path d="M865.7 268.5 H915.1" fill="none" stroke="#000" stroke-width="1.95"/>
<text class="sans" transform="translate(546.00,248.90) rotate(0.03) scale(1.0280,1)" font-size="21.40" text-anchor="start">measured</text>
<text class="sans" transform="translate(546.50,275.70) rotate(0.03) scale(1.0280,1)" font-size="21.40" text-anchor="start">simulated</text>
<text class="sans" transform="translate(921.60,248.40) rotate(0.03) scale(1.0280,1)" font-size="21.40" text-anchor="start">measured</text>
<text class="sans" transform="translate(922.10,275.50) rotate(0.03) scale(1.0280,1)" font-size="21.40" text-anchor="start">simulated</text>
<text class="serif" transform="translate(239.20,82.00) rotate(0.03) scale(1.0000,1)" font-size="25.00" text-anchor="start" font-style="italic" stroke="#000" stroke-width="0.45">S</text><text class="serif" transform="translate(251.40,87.20) rotate(0.03) scale(1.0000,1)" font-size="15.20" text-anchor="start" stroke="#000" stroke-width="0.25" textLength="19.4" lengthAdjust="spacingAndGlyphs">11</text>
<text class="serif" transform="translate(241.00,137.50) rotate(0.03) scale(1.0000,1)" font-size="25.00" text-anchor="start" font-style="italic" stroke="#000" stroke-width="0.45">S</text><text class="serif" transform="translate(253.30,142.80) rotate(0.03) scale(1.0000,1)" font-size="15.20" text-anchor="start" stroke="#000" stroke-width="0.25" textLength="19.4" lengthAdjust="spacingAndGlyphs">21</text>
<text class="serif" transform="translate(238.20,271.40) rotate(0.03) scale(1.0000,1)" font-size="25.00" text-anchor="start" font-style="italic" stroke="#000" stroke-width="0.45">S</text><text class="serif" transform="translate(250.50,276.80) rotate(0.03) scale(1.0000,1)" font-size="15.20" text-anchor="start" stroke="#000" stroke-width="0.25" textLength="19.4" lengthAdjust="spacingAndGlyphs">22</text>
<text class="serif" transform="translate(1258.10,55.10) rotate(0.03) scale(1.0000,1)" font-size="25.00" text-anchor="start" font-style="italic" stroke="#000" stroke-width="0.45">S</text><text class="serif" transform="translate(1270.40,60.20) rotate(0.03) scale(1.0000,1)" font-size="15.20" text-anchor="start" stroke="#000" stroke-width="0.25" textLength="19.2" lengthAdjust="spacingAndGlyphs">23</text>
<text class="serif" transform="translate(1193.30,190.40) rotate(0.03) scale(1.0000,1)" font-size="25.00" text-anchor="start" font-style="italic" stroke="#000" stroke-width="0.45">S</text><text class="serif" transform="translate(1205.80,196.00) rotate(0.03) scale(1.0000,1)" font-size="15.20" text-anchor="start" stroke="#000" stroke-width="0.25" textLength="19.3" lengthAdjust="spacingAndGlyphs">24</text>
<text class="serif" transform="translate(389.20,441.20) rotate(0.03) scale(0.9850,1)" font-size="26.50" text-anchor="middle">(a)</text>
<text class="serif" transform="translate(1104.10,441.20) rotate(0.03) scale(0.9850,1)" font-size="26.50" text-anchor="middle">(b)</text>
</svg>
</body></html>
